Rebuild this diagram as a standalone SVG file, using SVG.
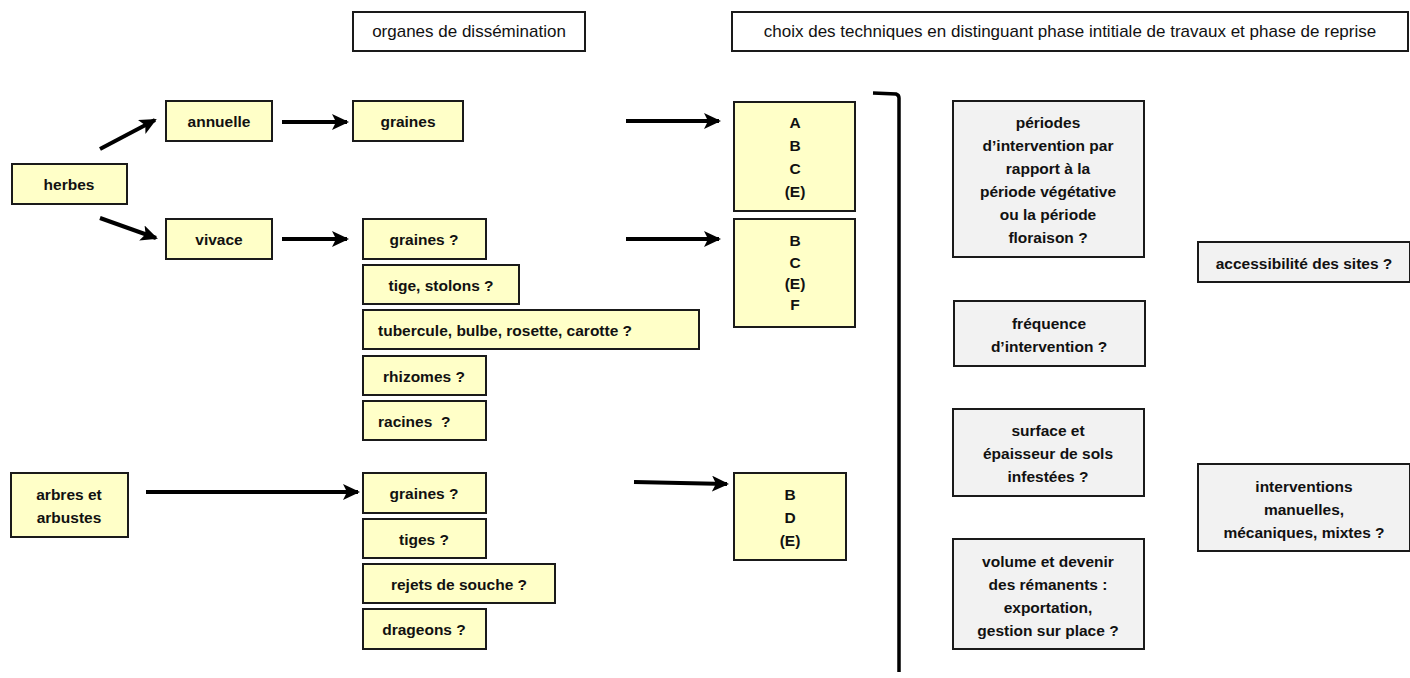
<svg xmlns="http://www.w3.org/2000/svg" width="1410" height="678" viewBox="0 0 1410 678">
<style>
  .y{fill:#FFFFC8;stroke:#1a1a1a;stroke-width:2}
  .g{fill:#F2F2F2;stroke:#1a1a1a;stroke-width:2}
  .w{fill:#FFFFFF;stroke:#1a1a1a;stroke-width:2}
  text{font-family:"Liberation Sans",Arial,sans-serif;font-size:15.5px;font-weight:bold;fill:#111;dominant-baseline:central}
  .c{text-anchor:middle}
  .h{font-weight:normal;font-size:17px}
  .arr{stroke:#000;stroke-width:4;fill:none;marker-end:url(#ah)}
</style>
<defs>
  <marker id="ah" markerUnits="userSpaceOnUse" markerWidth="20" markerHeight="18" refX="15" refY="8" orient="auto">
    <path d="M0,0 L17,8 L0,16 L4,8 z" fill="#000"/>
  </marker>
</defs>
<rect width="1410" height="678" fill="#fff"/>

<g id="header1"><rect class="w" x="353" y="12" width="232" height="39"/><text class="c h" x="469" y="31">organes de dissémination</text></g>
<g id="header2"><rect class="w" x="732" y="12" width="676" height="39"/><text class="c h" x="1070" y="31">choix des techniques en distinguant phase intitiale de travaux et phase de reprise</text></g>

<g id="herbes"><rect class="y" x="12" y="164" width="115" height="40"/><text class="c" x="69" y="184">herbes</text></g>
<g id="annuelle"><rect class="y" x="166" y="101" width="106" height="40"/><text class="c" x="219" y="121">annuelle</text></g>
<g id="vivace"><rect class="y" x="166" y="219" width="106" height="40"/><text class="c" x="219" y="239">vivace</text></g>
<g id="graines1"><rect class="y" x="353" y="101" width="110" height="40"/><text class="c" x="408" y="121">graines</text></g>

<g id="graines2"><rect class="y" x="363" y="219" width="123" height="40"/><text class="c" x="424" y="239">graines ?</text></g>
<g id="tige"><rect class="y" x="363" y="265" width="156" height="39"/><text class="c" x="441" y="285">tige, stolons ?</text></g>
<g id="tubercule"><rect class="y" x="363" y="310" width="336" height="39"/><text x="378" y="330">tubercule, bulbe, rosette, carotte  ?</text></g>
<g id="rhizomes"><rect class="y" x="363" y="356" width="123" height="39"/><text class="c" x="424" y="376">rhizomes ?</text></g>
<g id="racines"><rect class="y" x="363" y="401" width="123" height="39"/><text x="378" y="421" xml:space="preserve">racines  ?</text></g>

<g id="arbres"><rect class="y" x="11" y="473" width="117" height="64"/><text class="c" x="69" y="494">arbres et</text><text class="c" x="69" y="517">arbustes</text></g>
<g id="graines3"><rect class="y" x="363" y="473" width="123" height="40"/><text class="c" x="424" y="493">graines ?</text></g>
<g id="tiges"><rect class="y" x="363" y="519" width="123" height="39"/><text class="c" x="424" y="539">tiges ?</text></g>
<g id="rejets"><rect class="y" x="363" y="564" width="192" height="39"/><text class="c" x="459" y="584">rejets de souche ?</text></g>
<g id="drageons"><rect class="y" x="363" y="609" width="123" height="40"/><text class="c" x="424" y="629">drageons ?</text></g>

<g id="abc"><rect class="y" x="734" y="102" width="121" height="109"/>
  <text class="c" x="795" y="122">A</text><text class="c" x="795" y="145">B</text><text class="c" x="795" y="168">C</text><text class="c" x="795" y="191">(E)</text></g>
<g id="bcef"><rect class="y" x="734" y="219" width="121" height="108"/>
  <text class="c" x="795" y="240">B</text><text class="c" x="795" y="262">C</text><text class="c" x="795" y="283">(E)</text><text class="c" x="795" y="304">F</text></g>
<g id="bde"><rect class="y" x="734" y="473" width="112" height="87"/>
  <text class="c" x="790" y="494">B</text><text class="c" x="790" y="517">D</text><text class="c" x="790" y="540">(E)</text></g>

<g id="periodes"><rect class="g" x="953" y="101" width="191" height="156"/>
  <text class="c" x="1048" y="122">périodes</text><text class="c" x="1048" y="145">d’intervention par</text><text class="c" x="1048" y="168">rapport à la</text><text class="c" x="1048" y="191">période végétative</text><text class="c" x="1048" y="214">ou la période</text><text class="c" x="1048" y="237">floraison ?</text></g>
<g id="frequence"><rect class="g" x="954" y="301" width="191" height="65"/>
  <text class="c" x="1049" y="323">fréquence</text><text class="c" x="1049" y="346">d’intervention ?</text></g>
<g id="surface"><rect class="g" x="953" y="409" width="191" height="87"/>
  <text class="c" x="1048" y="430">surface et</text><text class="c" x="1048" y="453">épaisseur de sols</text><text class="c" x="1048" y="476">infestées ?</text></g>
<g id="volume"><rect class="g" x="953" y="539" width="191" height="110"/>
  <text class="c" x="1048" y="561">volume et devenir</text><text class="c" x="1048" y="584">des rémanents :</text><text class="c" x="1048" y="607">exportation,</text><text class="c" x="1048" y="630">gestion sur place ?</text></g>
<g id="acces"><rect class="g" x="1198" y="242" width="212" height="40"/>
  <text class="c" x="1304" y="263">accessibilité des sites ?</text></g>
<g id="interventions"><rect class="g" x="1198" y="464" width="212" height="87"/>
  <text class="c" x="1304" y="486">interventions</text><text class="c" x="1304" y="509">manuelles,</text><text class="c" x="1304" y="532">mécaniques, mixtes ?</text></g>

<g id="connectors">
  <line class="arr" x1="100" y1="149" x2="155" y2="120"/>
  <line class="arr" x1="100" y1="218" x2="156" y2="238"/>
  <line class="arr" x1="282" y1="122" x2="347" y2="122"/>
  <line class="arr" x1="282" y1="239" x2="347" y2="239"/>
  <line class="arr" x1="626" y1="121" x2="719" y2="121"/>
  <line class="arr" x1="626" y1="239" x2="719" y2="239"/>
  <line class="arr" x1="146" y1="492" x2="358" y2="492"/>
  <line class="arr" x1="634" y1="482" x2="727" y2="484"/>
  <path d="M873,93 L896,94 Q899,95 899,98 L899,672" stroke="#000" stroke-width="3.5" fill="none"/>
</g>
</svg>
